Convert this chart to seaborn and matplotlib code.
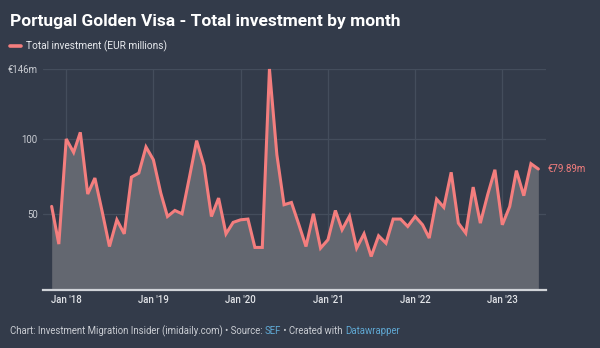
import matplotlib
matplotlib.use("Agg")
import matplotlib.pyplot as plt
import matplotlib.dates as mdates
from matplotlib.lines import Line2D
import seaborn as sns
import pandas as pd
import numpy as np

# ---- data ----
start_month = "2017-11-01"
investment = [55.1, 30.1, 99.8, 90.9, 104.2, 63.3, 73.9, 51.3, 28.5, 46.2, 36.9, 74.5,
              77.2, 94.5, 86.0, 63.9, 48.4, 52.4, 50.2, 74.5, 98.7, 82.1, 48.4, 60.6,
              36.9, 44.5, 46.2, 46.7, 27.9, 27.9, 146.2, 89.4, 56.2, 57.7, 43.1, 28.5,
              50.2, 27.4, 33.0, 52.4, 39.6, 48.6, 27.4, 36.9, 21.9, 35.6, 30.7, 46.7,
              46.7, 41.8, 48.4, 42.9, 34.1, 59.9, 54.5, 77.7, 44.0, 37.4, 67.9, 44.0,
              63.0, 79.4, 42.9, 55.0, 78.8, 62.2, 83.4, 79.89]
series_label = "Total investment (EUR millions)"
y_ticks = [50, 100, 146]
y_tick_labels = ["50", "100", "€146m"]
x_tick_years = [2018, 2019, 2020, 2021, 2022, 2023]
x_tick_labels = ["Jan '18", "Jan '19", "Jan '20", "Jan '21", "Jan '22", "Jan '23"]
last_label = "€79.89m"
title = "Portugal Golden Visa - Total investment by month"
footer_parts = [("Chart: Investment Migration Insider (imidaily.com) • Source: ", "#c9ccd2"),
                ("SEF", "#5fa8d3"),
                (" • Created with ", "#c9ccd2"),
                ("Datawrapper", "#5fa8d3")]

dates = pd.date_range(start_month, periods=len(investment), freq="MS")
df = pd.DataFrame({"date": dates, "value": investment})

# ---- style ----
BG = "#333b4a"
GRID = "#444d5c"
LINE = "#f47e7e"
FILL = "#636770"
TXT = "#c9ccd2"

sns.set_theme(style="dark")
plt.rcParams["font.family"] = ["Roboto", "DejaVu Sans"]

W, H = 600, 348
fig = plt.figure(figsize=(W / 100, H / 100), dpi=100, facecolor=BG)
left, right, top, bottom = 43.3, 546, 69.3, 289.5
ax = fig.add_axes([left / W, 1 - bottom / H, (right - left) / W, (bottom - top) / H])
ax.set_facecolor(BG)

ax.fill_between(df["date"], 0, df["value"], color=FILL, linewidth=0, zorder=2)
sns.lineplot(data=df, x="date", y="value", ax=ax, color=LINE, linewidth=2.2,
             label=series_label, zorder=3, solid_joinstyle="miter")
for ln in ax.get_lines():
    ln.set_clip_on(False)

ax.set_ylim(0, 146)
ax.set_xlim(pd.Timestamp("2017-09-27"), pd.Timestamp("2023-07-03"))

# grid
for yv in y_ticks:
    ax.axhline(yv, color=GRID, linewidth=0.9, zorder=1)
tick_dates = [pd.Timestamp(f"{y}-01-01") for y in x_tick_years]
for d in tick_dates:
    ax.axvline(d, color=GRID, linewidth=0.9, zorder=1)
ax.grid(False)

for s in ["top", "right", "left"]:
    ax.spines[s].set_visible(False)
ax.spines["bottom"].set_color("#d0d3d8")
ax.spines["bottom"].set_linewidth(1.6)
ax.spines["bottom"].set_zorder(4)

ax.set_xticks(tick_dates)
ax.set_xticklabels(x_tick_labels, color="#e2e4e8", fontsize=6.9, fontweight="medium")
ax.set_yticks(y_ticks)
ax.set_yticklabels(y_tick_labels, color=TXT, fontsize=6.9)
ax.tick_params(axis="x", length=0, pad=4)
ax.tick_params(axis="y", length=0, pad=4)
ax.set_xlabel("")
ax.set_ylabel("")

# end label
ax.annotate(last_label, xy=(df["date"].iloc[-1], df["value"].iloc[-1]),
            xytext=(7, 0), textcoords="offset points", color=LINE,
            fontsize=7, va="center", ha="left", annotation_clip=False)

# legend
leg = ax.legend(loc="upper left", bbox_to_anchor=(10 / W, 1 - 40.5 / H),
                bbox_transform=fig.transFigure, frameon=False, fontsize=7.3,
                handlelength=1.1, handletextpad=0.45, borderaxespad=0, borderpad=0)
for t in leg.get_texts():
    t.set_color("#e8eaee")
for h in leg.get_lines():
    h.set_linewidth(2.6)

# title
fig.text(10 / W, 1 - 26 / H, title, color="white", fontsize=12.5,
         fontweight="bold", ha="left", va="baseline")

# footer
renderer = fig.canvas.get_renderer()
x = 9.5 / W
for txt, col in footer_parts:
    t = fig.text(x, 1 - 334 / H, txt, color=col, fontsize=6.9, ha="left", va="baseline")
    bb = t.get_window_extent(renderer=renderer)
    x += bb.width / W

fig.savefig("out.png", dpi=100, facecolor=BG)
